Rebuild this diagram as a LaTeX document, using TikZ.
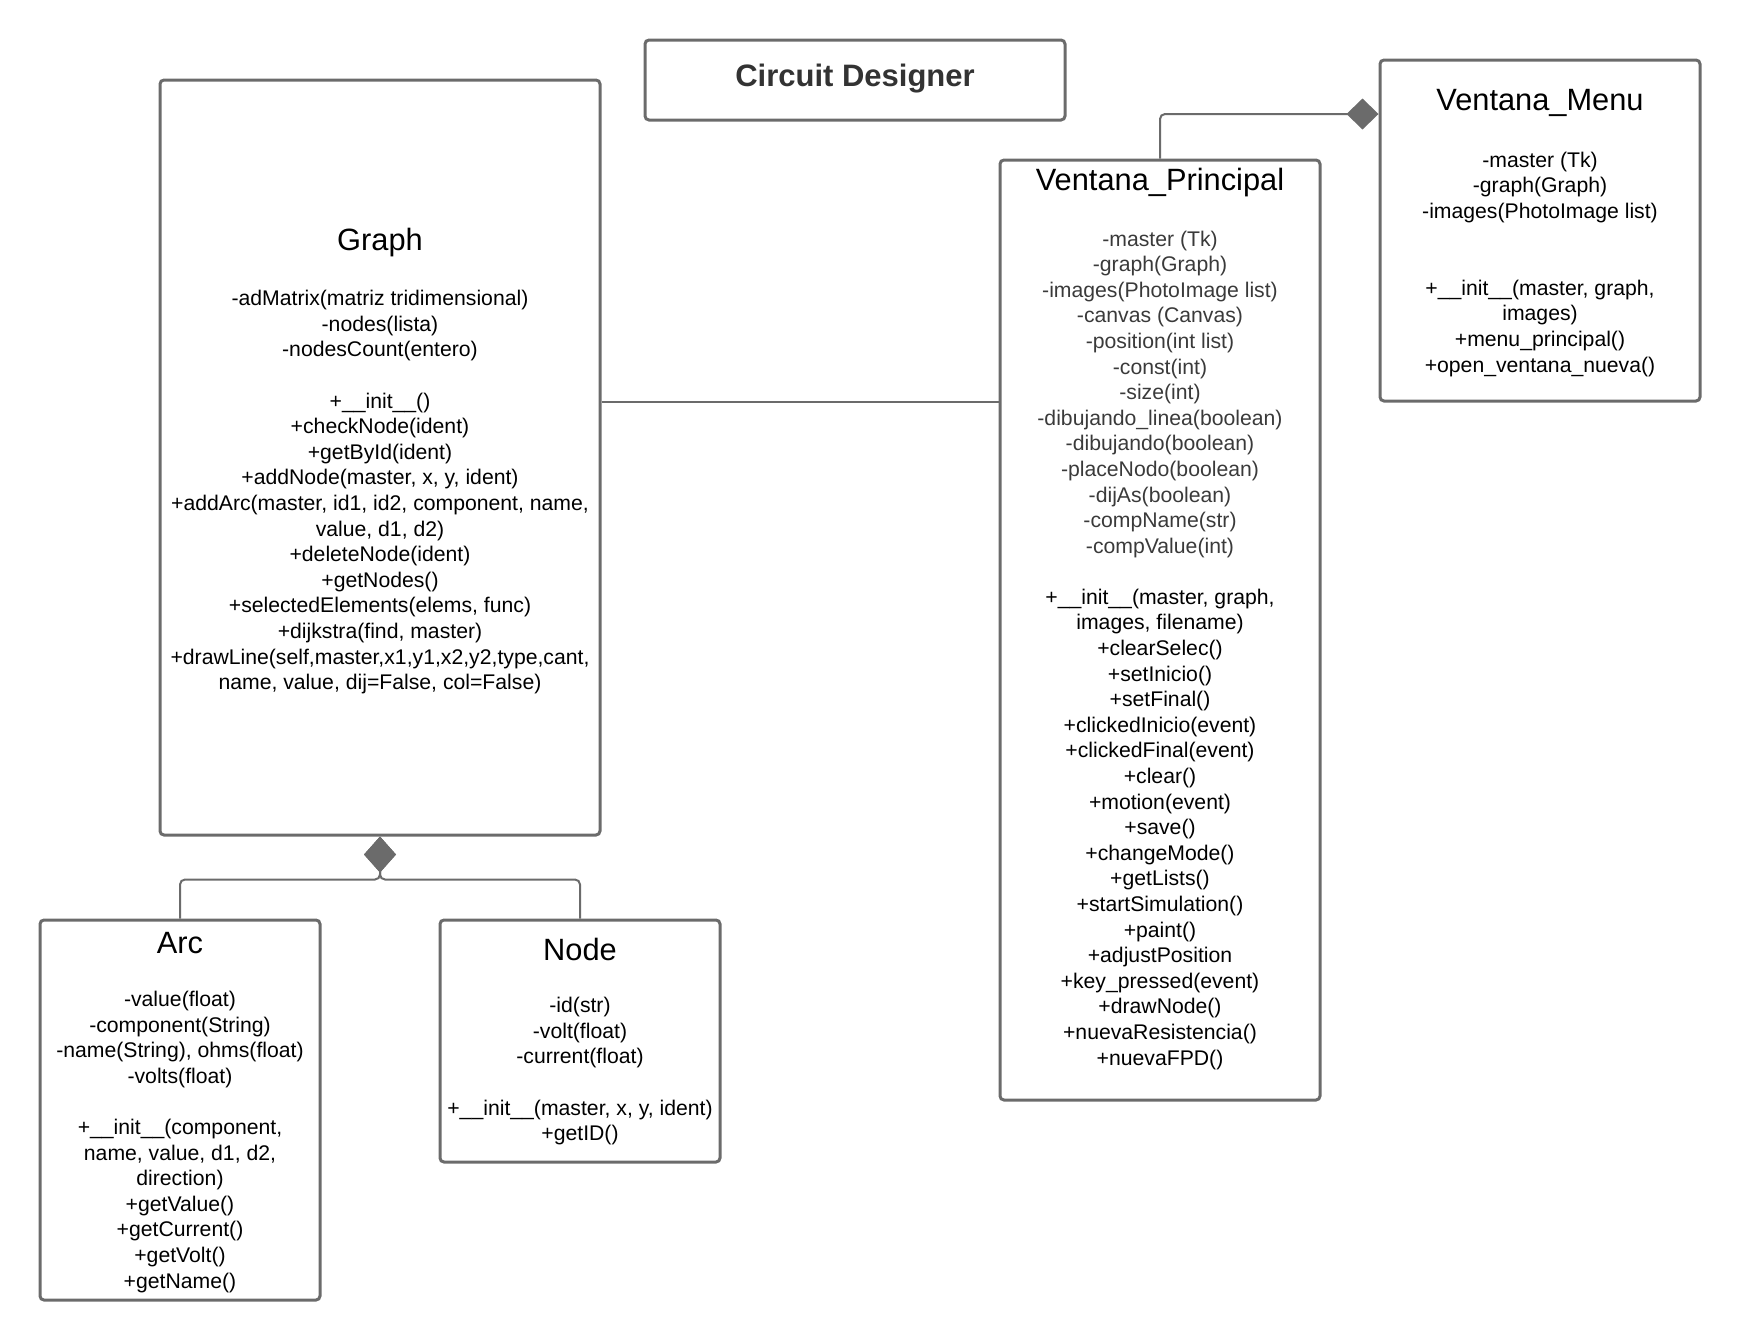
\documentclass[tikz,border=0pt]{standalone}
\usepackage{fontspec}
\setmainfont{Liberation Sans}
\usetikzlibrary{arrows.meta,positioning}
\definecolor{boxgray}{HTML}{6B6B6B}
\definecolor{titlegray}{HTML}{333333}
\definecolor{attrgray}{HTML}{3A3A3A}

\begin{document}
\begin{tikzpicture}[x=0.5pt,y=-0.5pt,
	classbox/.style={draw=boxgray,line width=1.5pt,rounded corners=2pt,inner sep=0pt},
	classname/.style={inner sep=0pt,yshift=-1.6pt,font=\fontsize{15.4}{18}\selectfont},
	members/.style={align=center,inner sep=0pt,yshift=-1.6pt,font=\fontsize{10.6}{12.8}\selectfont},
	link/.style={draw=boxgray,line width=1pt},
	comp/.style={link,rounded corners=2.5pt}]
	\useasboundingbox (0,0) rectangle (1740,1340);

	\node[classbox,minimum width=210pt,minimum height=40pt] (title) at (855,80){};
	\node[inner sep=0pt,text=titlegray,font=\bfseries\fontsize{15.5}{18}\selectfont] (titletxt) at (855,78.5){Circuit Designer};

	\node[classbox,minimum width=220pt,minimum height=377.5pt] (graph) at (380,457.5){};
	\node[classname] (graphT) at (380,239){Graph};
	\node[members] (graphM) at (380,489){-adMatrix(matriz tridimensional)\\-nodes(lista)\\-nodesCount(entero)\\[12.8pt]
		+\_\_init\_\_()\\+checkNode(ident)\\+getById(ident)\\+addNode(master, x, y, ident)\\
		+addArc(master, id1, id2, component, name,\\value, d1, d2)\\+deleteNode(ident)\\+getNodes()\\
		+selectedElements(elems, func)\\+dijkstra(find, master)\\
		+drawLine(self,master,x1,y1,x2,y2,type,cant,\\name, value, dij=False, col=False)};

	\node[classbox,minimum width=160pt,minimum height=470pt] (vp) at (1160,630){};
	\node[classname] (vpT) at (1160,179){Ventana\_Principal};
	\node[members,text=attrgray] (vpA) at (1160,391){-master (Tk)\\-graph(Graph)\\-images(PhotoImage list)\\
		-canvas (Canvas)\\-position(int list)\\-const(int)\\-size(int)\\-dibujando\_linea(boolean)\\
		-dibujando(boolean)\\-placeNodo(boolean)\\-dijAs(boolean)\\-compName(str)\\-compValue(int)};
	\node[members] (vpM) at (1160,826){+\_\_init\_\_(master, graph,\\images, filename)\\+clearSelec()\\
		+setInicio()\\+setFinal()\\+clickedInicio(event)\\+clickedFinal(event)\\+clear()\\+motion(event)\\
		+save()\\+changeMode()\\+getLists()\\+startSimulation()\\+paint()\\+adjustPosition\\
		+key\_pressed(event)\\+drawNode()\\+nuevaResistencia()\\+nuevaFPD()};

	\node[classbox,minimum width=160pt,minimum height=170.5pt] (vm) at (1540,230.5){};
	\node[classname] (vmT) at (1540,100){Ventana\_Menu};
	\node[members] (vmM) at (1540,261){-master (Tk)\\-graph(Graph)\\-images(PhotoImage list)\\[25.6pt]
		+\_\_init\_\_(master, graph,\\images)\\+menu\_principal()\\+open\_ventana\_nueva()};

	\node[classbox,minimum width=140pt,minimum height=190pt] (arccls) at (180,1110){};
	\node[classname] (arcT) at (180,940){Arc};
	\node[members] (arcM) at (180,1138.5){-value(float)\\-component(String)\\-name(String), ohms(float)\\
		-volts(float)\\[12.8pt]+\_\_init\_\_(component,\\name, value, d1, d2,\\direction)\\
		+getValue()\\+getCurrent()\\+getVolt()\\+getName()};

	\node[classbox,minimum width=140pt,minimum height=121pt] (nodecls) at (580,1041){};
	\node[classname] (nodeT) at (580,946.6){Node};
	\node[members] (nodeM) at (580,1068){-id(str)\\-volt(float)\\-current(float)\\[12.8pt]
		+\_\_init\_\_(master, x, y, ident)\\+getID()};

	\draw[link] ([yshift=27.75pt]graph.east) -- ([yshift=27.75pt]graph.east -| vp.west);
	\draw[comp,-{Diamond[length=16pt,width=15.5pt]}] (vp.north) |- ([yshift=58.25pt]vm.west);
	\draw[comp,-{Diamond[length=18pt,width=16pt]}] (arccls.north) |- ([yshift=-21.5pt]graph.south) -- (graph.south);
	\draw[comp,-{Diamond[length=18pt,width=16pt]}] (nodecls.north) |- ([yshift=-21.5pt]graph.south) -- (graph.south);
\end{tikzpicture}
\end{document}
